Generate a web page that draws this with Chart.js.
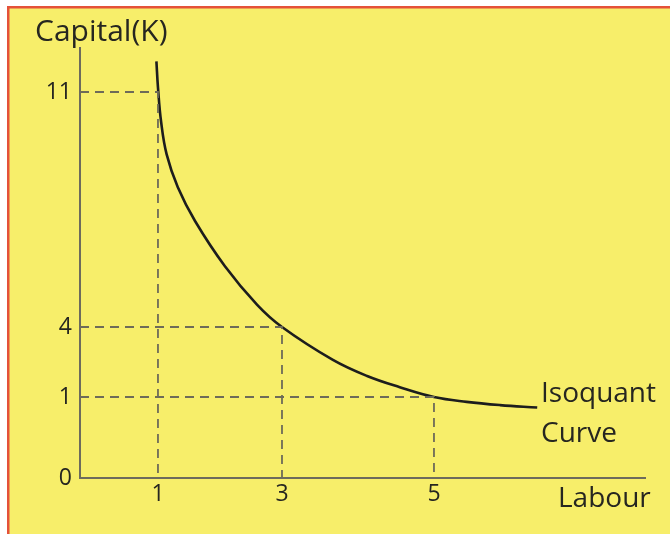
<!DOCTYPE html>
<html>
<head>
<meta charset="utf-8">
<script src="https://cdn.jsdelivr.net/npm/chart.js@4.4.1/dist/chart.umd.min.js"></script>
<style>
  html, body { margin: 0; padding: 0; background: #fff; }
  #wrap { width: 670px; height: 534px; }
</style>
</head>
<body>
<div id="wrap"><canvas id="chart" width="670" height="534"></canvas></div>
<script>
// Tick labels
const labourTicks = [1, 3, 5];
const capitalTicks = [0, 1, 4, 11];

// Isoquant curve
const curveLabour = [0.98, 1, 1.05, 1.14, 1.32, 1.6, 2.08, 2.6, 3, 3.67, 4.12, 4.55, 5, 5.43, 5.87, 6.36];
const curveCapital = [11.91, 11.14, 10.12, 9.14, 8.16, 7.15, 5.81, 4.66, 4, 2.59, 1.9, 1.42, 1, 0.94, 0.9, 0.87];

// Combinations marked with dashed guides
const guideLabour = [1, 3, 5];
const guideCapital = [11, 4, 1];

// The axes are not drawn to scale: value -> fraction of axis length
const axisAnchors = {
  x: [[0, 0], [1, 0.138], [3, 0.3575], [5, 0.6265], [7.78, 1]],
  y: [[0, 0], [1, 0.1884], [4, 0.3512], [11, 0.8977], [12.31, 1]],
};

function interp(pairs, v, from, to) {
  let i = 0;
  while (i < pairs.length - 2 && v > pairs[i + 1][from]) i++;
  const a = pairs[i], b = pairs[i + 1];
  return a[to] + (v - a[from]) * (b[to] - a[to]) / (b[from] - a[from]);
}

class PiecewiseScale extends Chart.LinearScale {
  static id = "piecewise";
  static defaults = Chart.LinearScale.defaults;
  getPixelForValue(value) {
    return this.getPixelForDecimal(interp(axisAnchors[this.id], value, 0, 1));
  }
  getValueForPixel(pixel) {
    return interp(axisAnchors[this.id], this.getDecimalForPixel(pixel), 1, 0);
  }
}
Chart.register(PiecewiseScale);

const axisColor = "#6d6b5c";
const textColor = "#262620";
const fontFamily = "'Open Sans', 'Noto Sans', sans-serif";

const backgroundPlugin = {
  id: "background",
  beforeDraw(chart) {
    const ctx = chart.ctx;
    ctx.save();
    ctx.fillStyle = "#ffffff";
    ctx.fillRect(0, 0, chart.width, chart.height);
    ctx.fillStyle = "#f7ee6a";
    ctx.fillRect(8, 8, chart.width, chart.height);
    ctx.fillStyle = "#e4513a";
    ctx.fillRect(7, 6, chart.width, 2.5);
    ctx.fillRect(7, 6, 2.5, chart.height);
    ctx.restore();
  },
};

const labelPlugin = {
  id: "labels",
  afterDraw(chart) {
    const ctx = chart.ctx;
    ctx.save();
    ctx.fillStyle = textColor;
    ctx.textBaseline = "alphabetic";
    ctx.textAlign = "left";
    ctx.font = "30px " + fontFamily;
    ctx.fillText("Capital(K)", 35, 41);
    ctx.font = "28px " + fontFamily;
    ctx.fillText("Isoquant", 541, 402);
    ctx.fillText("Curve", 541, 442);
    ctx.fillText("Labour", 558, 507);
    ctx.restore();
  },
};

const guideSets = guideLabour.map((l, i) => ({
  data: [{ x: 0, y: guideCapital[i] }, { x: l, y: guideCapital[i] }, { x: l, y: 0 }],
  borderColor: "#6e6b58",
  borderWidth: 1.8,
  borderDash: [9, 6],
  pointRadius: 0,
  tension: 0,
}));

new Chart(document.getElementById("chart"), {
  type: "line",
  data: {
    datasets: [
      ...guideSets,
      {
        data: curveLabour.map((l, i) => ({ x: l, y: curveCapital[i] })),
        borderColor: "#1d1d1d",
        borderWidth: 2.6,
        pointRadius: 0,
        tension: 0.4,
      },
    ],
  },
  options: {
    responsive: false,
    animation: false,
    layout: { padding: { left: 0, right: 25, top: 48, bottom: 0 } },
    plugins: { legend: { display: false }, tooltip: { enabled: false } },
    scales: {
      x: {
        type: "piecewise",
        min: 0,
        max: 7.78,
        grid: { display: false, tickLength: 0 },
        border: { display: true, color: axisColor, width: 2 },
        afterBuildTicks: (s) => { s.ticks = labourTicks.map((v) => ({ value: v })); },
        afterFit: (s) => { s.height = 56; },
        ticks: {
          autoSkip: false,
          maxRotation: 0,
          padding: 3,
          color: textColor,
          font: { family: fontFamily, size: 23 },
          callback: (v) => String(v),
        },
      },
      y: {
        type: "piecewise",
        min: 0,
        max: 12.31,
        grid: { display: false, tickLength: 0 },
        border: { display: true, color: axisColor, width: 2 },
        afterBuildTicks: (s) => { s.ticks = capitalTicks.map((v) => ({ value: v })); },
        afterFit: (s) => { s.width = 80; },
        ticks: {
          autoSkip: false,
          padding: 8,
          color: textColor,
          font: { family: fontFamily, size: 23 },
          callback: (v) => String(v),
        },
      },
    },
  },
  plugins: [backgroundPlugin, labelPlugin],
});
</script>
</body>
</html>
